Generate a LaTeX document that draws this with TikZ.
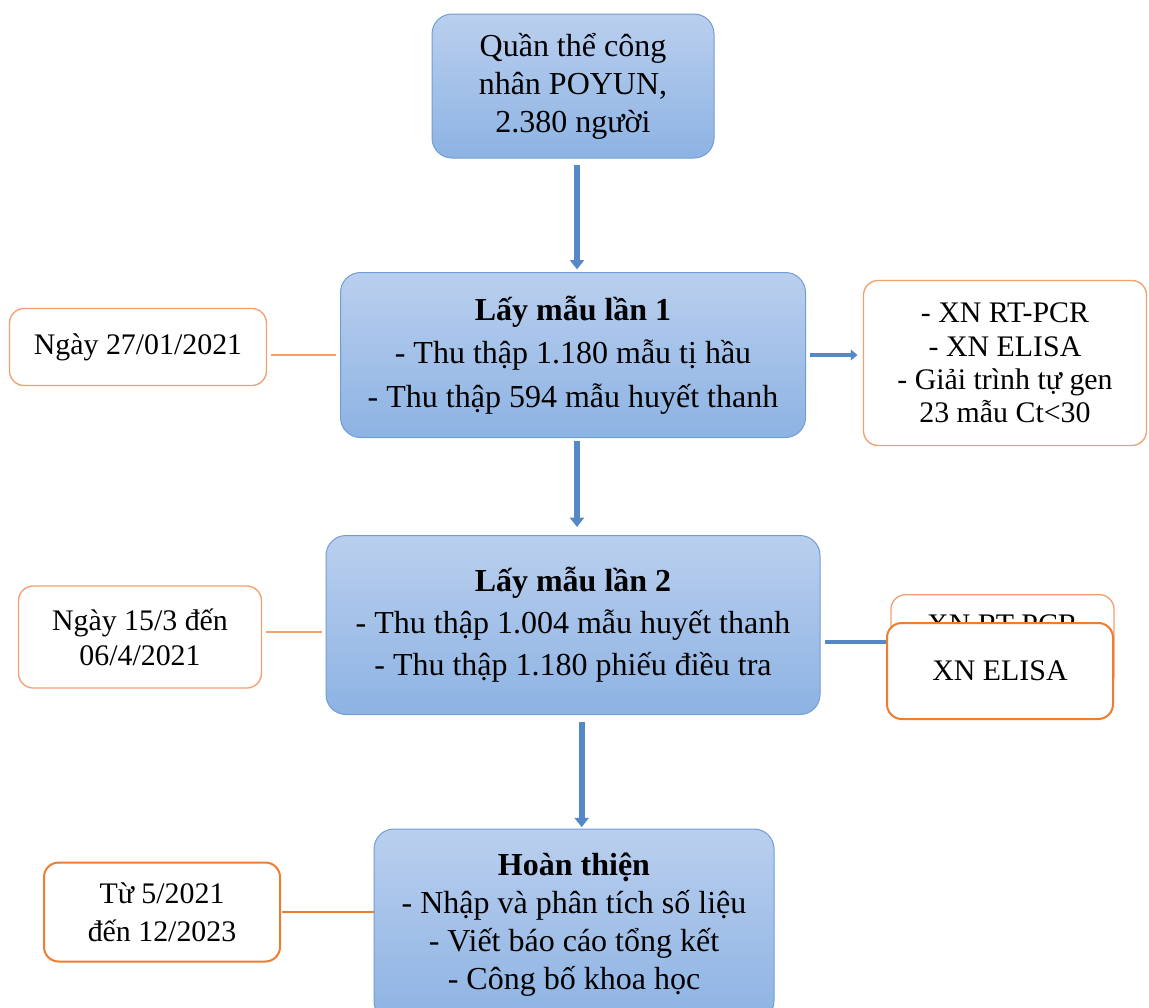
\documentclass[tikz,border=0pt]{standalone}
\usepackage{fontspec}
\setmainfont{Liberation Serif}
\usetikzlibrary{arrows.meta,calc}

\definecolor{boxtop}{RGB}{186,207,238}
\definecolor{boxbottom}{RGB}{141,179,227}
\definecolor{boxedge}{RGB}{112,157,214}
\definecolor{arrowblue}{RGB}{84,136,198}
\definecolor{lineorange}{RGB}{237,125,49}
\definecolor{paleorange}{RGB}{242,160,110}

\tikzset{every picture/.style={line width=0.75pt}}
\tikzset{
	stagebox/.style={draw=boxedge, rounded corners=15pt, top color=boxtop, bottom color=boxbottom, align=center, inner sep=2pt, font=\fontsize{24}{28.5}\selectfont},
	datebox/.style={draw=paleorange, line width=1pt, fill=white, rounded corners=11pt, align=center, inner sep=2pt, font=\fontsize{22.4}{26}\selectfont},
	flowarrow/.style={draw=arrowblue, line width=4.5pt, -{Triangle[width=10.5pt,length=7pt]}},
	sidearrow/.style={draw=arrowblue, line width=3.5pt, -{Triangle[width=8pt,length=5pt]}},
	dateline/.style={draw=paleorange, line width=1pt}
}

\begin{document}
\begin{tikzpicture}[x=0.75pt,y=0.75pt,yscale=-1,xscale=1]
	\useasboundingbox (0,0) rectangle (1149,1007);

	% Stage boxes
	\node [stagebox, minimum width=211.5pt, minimum height=108pt] (pop) at (573,86) {Quần thể công\\nhân POYUN,\\2.380 người};
	\node [stagebox, minimum width=348.75pt, minimum height=123.75pt, font=\fontsize{24}{32.5}\selectfont] (lm1) at (573,355) {\textbf{Lấy mẫu lần 1}\\- Thu thập 1.180 mẫu tị hầu\\- Thu thập 594 mẫu huyết thanh};
	\node [stagebox, minimum width=370.5pt, minimum height=134.25pt, font=\fontsize{24}{31.5}\selectfont] (lm2) at (573,625) {\textbf{Lấy mẫu lần 2}\\- Thu thập 1.004 mẫu huyết thanh\\- Thu thập 1.180 phiếu điều tra};
	\node [stagebox, minimum width=300pt, minimum height=144pt] (done) at (574,925) {\textbf{Hoàn thiện}\\- Nhập và phân tích số liệu\\- Viết báo cáo tổng kết\\- Công bố khoa học};

	% Date boxes
	\node [datebox, minimum width=192.75pt, minimum height=57.75pt] (date1) at (138,347) {Ngày 27/01/2021};
	\node [datebox, minimum width=182.25pt, minimum height=76.5pt] (date2) at (140,637) {Ngày 15/3 đến\\06/4/2021};
	\node [datebox, draw=lineorange, line width=1.5pt, minimum width=177pt, minimum height=74.25pt, font=\fontsize{22.4}{28.5}\selectfont] (date3) at (162,912) {Từ 5/2021\\đến 12/2023};

	% Result boxes
	\node [datebox, minimum width=212.25pt, minimum height=123.75pt, font=\fontsize{22.4}{25}\selectfont] (res1) at (1005,363) {- XN RT-PCR\\- XN ELISA\\- Giải trình tự gen\\23 mẫu Ct<30};

	% Connectors
	\draw [flowarrow, shorten <=5pt, shorten >=2pt] ([xshift=3pt]pop.south) -- ([xshift=3pt]lm1.north);
	\draw [flowarrow, shorten <=2pt, shorten >=6pt] ([xshift=3pt]lm1.south) -- ([xshift=3pt]lm1.south |- lm2.north);
	\draw [flowarrow, shorten <=5pt, shorten >=1pt] ([xshift=6.5pt]lm2.south) -- ([xshift=6.5pt]lm2.south |- done.north);
	\draw [sidearrow, shorten <=3pt, shorten >=4pt] (lm1.east) -- (lm1.east -| res1.west);
	\coordinate (out2) at ($(lm2.east)+(4,17)$);
	\draw [sidearrow] (out2) -- (1075,642);
	\draw [dateline, shorten <=3pt, shorten >=3pt] (lm1.west) -- (lm1.west -| date1.east);
	\draw [dateline, shorten <=3pt, shorten >=3pt] ($(lm2.west)+(0,7)$) -- ($(lm2.west -| date2.east)+(0,7)$);
	\draw [dateline, draw=lineorange, line width=1.5pt, shorten <=1pt] (date3.east) -- (date3.east -| done.west);

	% Second result boxes (front one covers the back one)
	\node [datebox, anchor=north, minimum width=167.25pt, text height=28pt, text depth=40pt] (res2back) at (1002.5,594) {XN RT-PCR};
	\node [datebox, draw=lineorange, line width=1.5pt, minimum width=169.5pt, minimum height=72pt] (res2) at (1000,671) {XN ELISA};
\end{tikzpicture}
\end{document}
